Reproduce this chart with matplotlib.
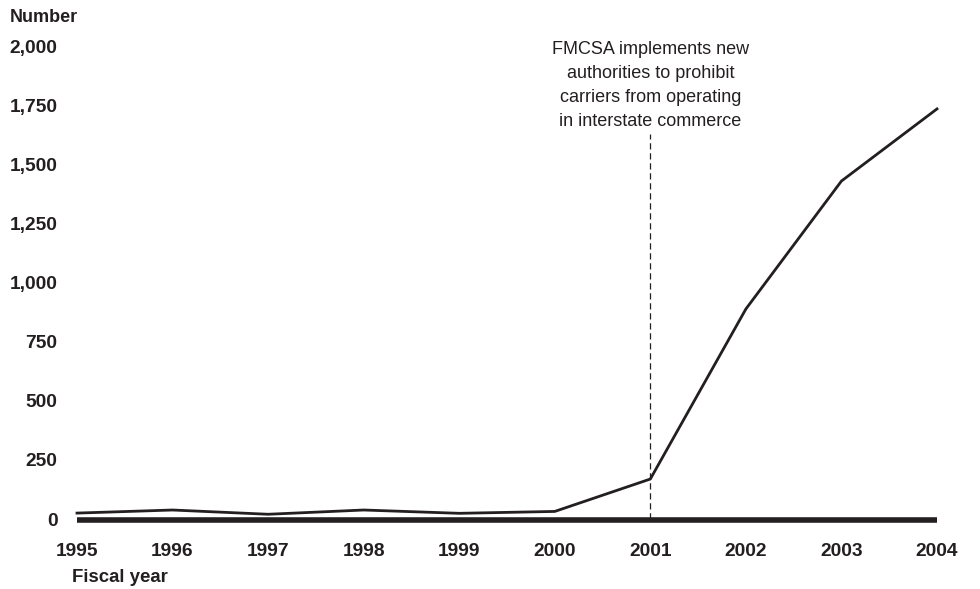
import matplotlib.pyplot as plt

plt.rcParams['font.family'] = ['Liberation Sans', 'DejaVu Sans']

years = [1995, 1996, 1997, 1998, 1999, 2000, 2001, 2002, 2003, 2004]
orders = [25, 38, 20, 38, 24, 32, 169, 888, 1429, 1734]
y_ticks = [0, 250, 500, 750, 1000, 1250, 1500, 1750, 2000]
event_year = 2001
event_text = "FMCSA implements new\nauthorities to prohibit\ncarriers from operating\nin interstate commerce"

W, H = 980, 589
fig = plt.figure(figsize=(W / 100, H / 100), dpi=100)
ax = fig.add_axes([77 / W, (H - 519) / H, (937 - 77) / W, (519 - 46) / H])

ax.plot(years, orders, color='#231f20', lw=2.0, clip_on=False, zorder=3)
ax.plot([years[0], years[-1]], [-6, -6], color='#231f20', lw=4, clip_on=False,
        solid_capstyle='butt', zorder=2)

ax.plot([event_year, event_year], [0, 1630], color='#231f20', lw=0.9,
        ls=(0, (5, 3)), clip_on=False)
ax.text(event_year, 1832, event_text, ha='center', va='center', fontsize=13,
        color='#231f20', linespacing=1.55)

ax.set_xlim(years[0], years[-1])
ax.set_ylim(0, 2000)
ax.set_xticks(years)
ax.set_xticklabels([str(y) for y in years])
ax.set_yticks(y_ticks)
ax.set_yticklabels([f"{v:,}" for v in y_ticks])
ax.tick_params(axis='both', length=0, labelsize=13.8, colors='#231f20')
ax.tick_params(axis='x', pad=17.5)
ax.tick_params(axis='y', pad=14)
for lbl in ax.get_xticklabels() + ax.get_yticklabels():
    lbl.set_fontweight('bold')
for s in ax.spines.values():
    s.set_visible(False)

fig.text(10 / W, 1 - 17 / H, "Number", fontsize=13, fontweight='bold',
         va='center', ha='left', color='#231f20')
fig.text(72 / W, 1 - 577 / H, "Fiscal year", fontsize=13.4, fontweight='bold',
         va='center', ha='left', color='#231f20')

fig.savefig("out.png", dpi=100)
